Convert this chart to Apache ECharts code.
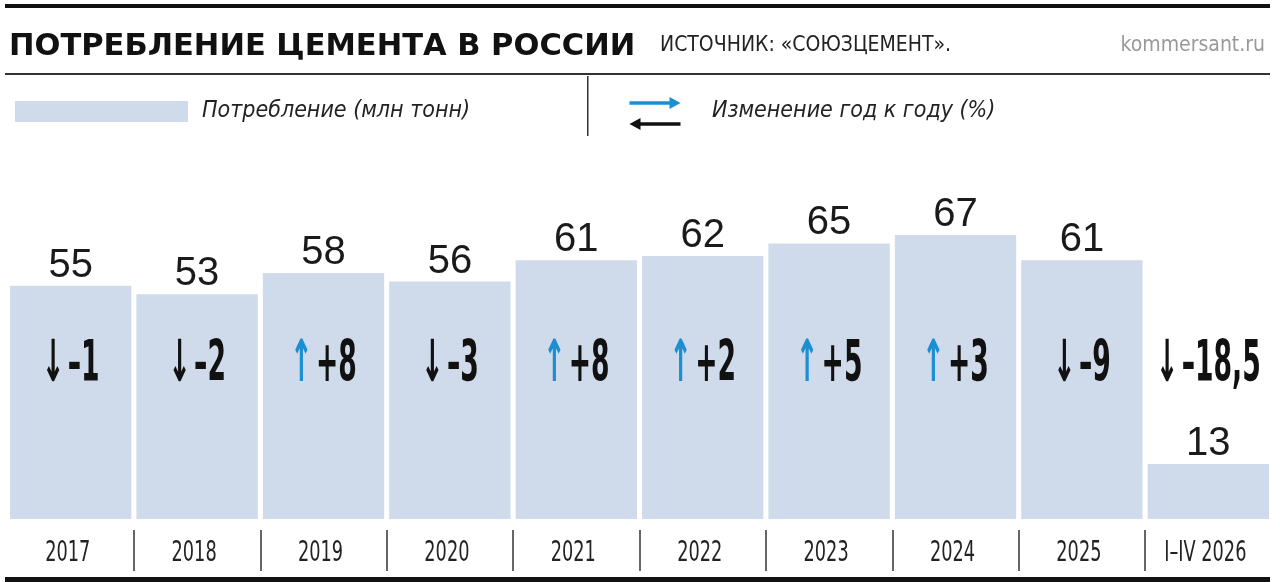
<!DOCTYPE html>
<html><head><meta charset="utf-8">
<script src="https://cdn.jsdelivr.net/npm/echarts@6/dist/echarts.min.js"></script>
<style>html,body{margin:0;padding:0;background:#fff}#c{width:1280px;height:582px}</style>
</head><body><div id="c"></div>
<script>
const categories = ['2017','2018','2019','2020','2021','2022','2023','2024','2025','I–IV 2026'];
const consumption = [55,53,58,56,61,62,65,67,61,13];
const changeText = ['–1','–2','+8','–3','+8','+2','+5','+3','–9','–18,5'];
const changeDir = ['down','down','up','down','up','up','up','up','down','down'];
const seriesNames = ['Потребление (млн тонн)','Изменение год к году (%)'];
const titleText = 'ПОТРЕБЛЕНИЕ ЦЕМЕНТА В РОССИИ';
const sourceText = 'ИСТОЧНИК: «СОЮЗЦЕМЕНТ».';
const siteText = 'kommersant.ru';

const CHANGE_LEVEL = 36; // level (axis units) on which the change labels sit
const cond = "'DejaVu Sans Condensed','DejaVu Sans',sans-serif";
const sans = "'Liberation Sans','Roboto',sans-serif";

const chart = echarts.init(document.getElementById('c'));
const splitColors = ['rgba(0,0,0,0)'].concat(categories.slice(1).map(()=>'#333'), ['rgba(0,0,0,0)']);

chart.setOption({
  animation:false,
  backgroundColor:'#fff',
  grid:[
    {left:7.5,right:8.5,top:95,bottom:63},
    {left:7.5,right:8.5,top:530,height:41}
  ],
  xAxis:[
    {type:'category',gridIndex:0,data:categories,
     axisLine:{show:false},axisTick:{show:false},axisLabel:{show:false}},
    {type:'category',gridIndex:1,data:categories,
     axisLine:{show:false},axisTick:{show:false},axisLabel:{show:false},
     splitLine:{show:true,lineStyle:{color:splitColors,width:1.5}}}
  ],
  yAxis:[
    {type:'value',gridIndex:0,min:0,max:100,show:false},
    {type:'value',gridIndex:1,min:0,max:1,show:false}
  ],
  legend:[
    {data:[seriesNames[0]],left:10,top:95,itemWidth:173,itemHeight:21,icon:'rect',
     textStyle:{fontSize:23,fontStyle:'italic',color:'#222',fontFamily:cond,padding:[0,0,0,9]}},
    {data:[{name:seriesNames[1],icon:'rect',itemStyle:{color:'rgba(0,0,0,0)'}}],left:627,top:95,itemWidth:70,itemHeight:21,
     textStyle:{fontSize:23,fontStyle:'italic',color:'#222',fontFamily:cond,padding:[0,0,0,5]}}
  ],
  series:[
    {name:seriesNames[0],type:'bar',xAxisIndex:0,yAxisIndex:0,data:consumption,z:2,
     barCategoryGap:'4%',itemStyle:{color:'#cfdaea'},
     label:{show:true,position:'top',distance:0,fontSize:40,color:'#1a1a1a',fontFamily:sans}},
    {name:seriesNames[1],type:'custom',xAxisIndex:0,yAxisIndex:0,z:10,
     itemStyle:{color:'#111'},
     data:categories.map((c,i)=>[i,CHANGE_LEVEL]),
     renderItem:(params,api)=>{
       const i = params.dataIndex;
       const pt = api.coord([api.value(0),api.value(1)]);
       const arrow = changeDir[i]==='up' ? '{up|↑}' : '{down|↓}';
       return {type:'text',x:pt[0],y:pt[1],scaleX:0.52,z2:10,
         style:{text:arrow+'{num|'+changeText[i]+'}',align:'center',verticalAlign:'middle',
           rich:{
             up:{fontSize:58,fontWeight:'bold',fill:'#1b8fd2',fontFamily:cond,padding:[0,6,0,0]},
             down:{fontSize:58,fontWeight:'bold',fill:'#111',fontFamily:cond,padding:[0,6,0,0]},
             num:{fontSize:57,fontWeight:'bold',fill:'#111',fontFamily:cond}
           }}};
     }},
    {name:'years',type:'custom',xAxisIndex:1,yAxisIndex:1,z:10,
     data:categories.map((c,i)=>[i,0.5]),
     renderItem:(params,api)=>{
       const pt = api.coord([api.value(0),api.value(1)]);
       return {type:'text',x:pt[0]-3,y:pt[1]+3,scaleX:0.68,
         style:{text:categories[params.dataIndex],font:"29px "+cond,fill:'#222',align:'center',verticalAlign:'middle'}};
     }}
  ],
  graphic:[
    {type:'rect',shape:{x:5,y:4,width:1265,height:4},style:{fill:'#111'}},
    {type:'rect',shape:{x:5,y:73,width:1265,height:2},style:{fill:'#333'}},
    {type:'rect',shape:{x:5,y:577,width:1265,height:5},style:{fill:'#111'}},
    {type:'rect',shape:{x:587,y:76,width:1.5,height:60},style:{fill:'#333'}},
    {type:'text',left:9,top:32,style:{text:titleText,font:"bold 30.5px 'DejaVu Sans',sans-serif",fill:'#111'}},
    {type:'text',left:660,top:35,style:{text:sourceText,font:"21px "+cond,fill:'#222'}},
    {type:'text',right:15,top:35,style:{text:siteText,font:"21px "+cond,fill:'#999'}},
    {type:'group',left:627,top:97,children:[
      {type:'line',shape:{x1:0,y1:6,x2:44,y2:6},style:{stroke:'#1b8fd2',lineWidth:3.5}},
      {type:'polygon',shape:{points:[[40,0],[51,6],[40,12]]},style:{fill:'#1b8fd2'}},
      {type:'line',shape:{x1:7,y1:27,x2:51,y2:27},style:{stroke:'#111',lineWidth:3.5}},
      {type:'polygon',shape:{points:[[11,21],[0,27],[11,33]]},style:{fill:'#111'}}
    ]}
  ]
});
</script></body></html>
